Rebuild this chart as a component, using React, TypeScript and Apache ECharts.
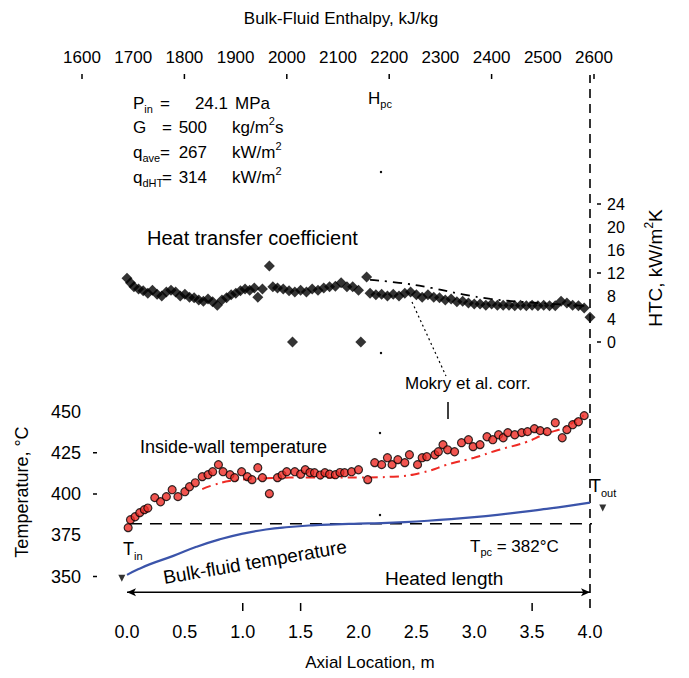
import React, { useEffect, useRef } from "react";
import * as echarts from "echarts";

// ---------- data ----------
const axialLabels = [0, 0.5, 1, 1.5, 2, 2.5, 3, 3.5, 4];
const axialTickMarks = [1, 1.5, 3.5];
const enthalpyLabels = [1600, 1700, 1800, 1900, 2000, 2100, 2200, 2300, 2400, 2500, 2600];
const enthalpyTickMarks = [1600, 1800, 2000, 2200, 2400, 2600];
const tempLabels = [350, 375, 400, 425, 450];
const tempTickMarks = [350, 400, 425];
const htcLabels = [0, 4, 8, 12, 16, 20, 24];
const htcTickMarks = [0, 12, 24];

const htcAxial = [0.00,0.03,0.06,0.10,0.14,0.18,0.22,0.26,0.30,0.34,0.38,0.42,0.46,0.50,0.54,0.58,0.62,0.66,0.70,0.74,0.78,0.82,0.86,0.90,0.94,0.98,1.02,1.06,1.10,1.13,1.17,1.23,1.26,1.30,1.35,1.40,1.43,1.45,1.50,1.55,1.60,1.65,1.70,1.75,1.80,1.85,1.90,1.95,2.00,2.02,2.07,2.10,2.15,2.20,2.25,2.30,2.35,2.40,2.45,2.50,2.55,2.60,2.65,2.70,2.75,2.80,2.85,2.90,2.95,3.00,3.05,3.10,3.15,3.20,3.25,3.30,3.35,3.40,3.45,3.50,3.55,3.60,3.65,3.70,3.75,3.80,3.85,3.90,3.95,4.00];
const htcValue = [11.1,10.3,9.6,9.2,8.9,8.5,9.0,8.3,8.0,8.7,9.0,8.7,8.0,8.3,7.8,7.7,7.3,7.1,7.5,7.0,6.4,7.3,7.7,8.2,8.5,8.9,9.2,9.0,9.4,7.8,9.2,13.2,9.6,9.4,9.2,8.9,0.0,8.7,9.0,8.7,9.2,9.0,9.4,9.6,9.7,10.3,9.6,9.6,9.0,0.0,11.3,8.5,8.2,8.3,8.0,8.3,8.0,8.5,8.7,8.2,7.8,8.2,7.8,7.7,7.3,7.5,7.0,7.1,6.8,6.6,6.6,6.4,6.6,6.4,6.4,6.4,6.3,6.4,6.3,6.4,6.3,6.4,6.3,6.3,7.1,6.8,6.4,6.3,5.9,4.3];

const mokryHtcAxial = [2.1, 2.35, 2.63, 2.9, 3.14, 3.4, 3.7, 4.0];
const mokryHtcValue = [10.8, 10.3, 9.4, 8.3, 7.5, 7.0, 6.6, 6.2];

const wallAxial = [0.01,0.03,0.07,0.11,0.15,0.18,0.24,0.29,0.34,0.39,0.44,0.50,0.54,0.59,0.65,0.70,0.74,0.79,0.83,0.89,0.93,0.99,1.04,1.08,1.13,1.17,1.23,1.30,1.34,1.38,1.45,1.50,1.54,1.58,1.62,1.67,1.71,1.75,1.80,1.84,1.88,1.94,2.00,2.08,2.14,2.20,2.25,2.29,2.34,2.40,2.44,2.51,2.55,2.59,2.66,2.69,2.73,2.77,2.83,2.89,2.95,2.99,3.05,3.11,3.16,3.21,3.25,3.29,3.35,3.41,3.46,3.52,3.57,3.63,3.70,3.76,3.80,3.85,3.90,3.95,4.00];
const wallTemp = [379.6,384.4,386.2,388.7,390.5,391.5,397.8,395.3,398.4,402.6,398.4,401.4,404.4,406.8,410.5,411.7,413.5,417.8,413.5,411.7,409.9,413.5,410.5,408.7,415.9,409.9,400.2,409.9,411.5,413.5,413.5,412.0,414.7,413.0,412.9,411.5,412.9,412.0,411.7,413.0,412.9,413.5,414.7,408.7,419.0,417.8,422.0,417.8,420.8,419.0,423.8,417.8,422.0,422.6,423.8,425.6,429.9,426.8,425.6,431.1,432.9,428.7,429.9,434.7,432.9,435.9,434.1,437.2,435.9,437.2,437.8,439.6,438.4,437.8,443.2,434.1,439.0,442.0,443.8,447.5,463.8];

const mokryWallAxial = [0.65, 0.75, 0.9, 1.2, 1.6, 2.0, 2.3, 2.55, 2.8, 3.0, 3.2, 3.45, 3.6, 3.8, 3.9, 3.97];
const mokryWallTemp = [403, 405.5, 408, 409.5, 410, 410, 410.5, 413, 418.5, 422, 426.5, 431.5, 436, 441, 446, 448];

const bulkAxial = [0, 0.1, 0.2, 0.4, 0.6, 0.8, 1.0, 1.2, 1.4, 1.6, 1.8, 2.0, 2.2, 2.4, 2.6, 2.8, 3.0, 3.2, 3.4, 3.6, 3.8, 4.0];
const bulkTemp = [351, 354.5, 357.5, 362.5, 368, 372.5, 376, 378.5, 380, 381, 381.6, 382, 382.4, 383, 383.8, 384.8, 386, 387.4, 389, 390.8, 392.7, 394.8];

const tPc = 382;
const tIn = 349;
const tOut = 391.5;
const heatedLength = [0, 4];

// ---------- helpers ----------
const FONT = "'Liberation Sans', Arial, sans-serif";
const zip = (xs: number[], ys: number[]) => xs.map((x, i) => [x, ys[i]]);

const txt = (x: number, y: number, text: string, size = 17, extra: any = {}) => ({
  type: "text",
  x,
  y,
  silent: true,
  ...extra,
  style: {
    text,
    fontSize: size,
    fontFamily: FONT,
    fill: "#000",
    align: "left",
    verticalAlign: "middle",
    ...(extra.style || {}),
  },
});

const richStyles = (size: number) => ({
  a: { fontSize: size, fontFamily: FONT, lineHeight: size + 6, verticalAlign: "middle", fill: "#000" },
  s: { fontSize: Math.round(size * 0.62), fontFamily: FONT, lineHeight: Math.round(size * 0.62), verticalAlign: "bottom", fill: "#000" },
  p: { fontSize: Math.round(size * 0.62), fontFamily: FONT, lineHeight: Math.round(size * 0.62), verticalAlign: "top", fill: "#000" },
});

const richTxt = (x: number, y: number, text: string, size = 17, extra: any = {}) => ({
  type: "text",
  x,
  y,
  silent: true,
  ...extra,
  style: {
    text,
    rich: richStyles(size),
    fontSize: size,
    fontFamily: FONT,
    fill: "#000",
    align: "left",
    verticalAlign: "middle",
    ...(extra.style || {}),
  },
});

const tickLine = (x1: number, y1: number, x2: number, y2: number) => ({
  type: "line",
  silent: true,
  shape: { x1, y1, x2, y2 },
  style: { stroke: "#000", lineWidth: 1.5 },
});

export default function App() {
  const ref = useRef<HTMLDivElement>(null);

  useEffect(() => {
    const chart = echarts.init(ref.current!, null, { renderer: "svg" });
    const axisText = { color: "#000", fontFamily: FONT };

    const baseGraphic: any[] = [
      txt(341, 18, "Bulk-Fluid Enthalpy, kJ/kg", 17, { style: { align: "center" } }),
      // parameter block
      richTxt(133, 103, "{a|P}{s|in}", 17),
      txt(160, 103, "=", 17),
      txt(228, 103, "24.1", 17, { style: { align: "right" } }),
      txt(235, 103, "MPa", 17),
      txt(133, 127, "G", 17),
      txt(162, 127, "=", 17),
      txt(207, 127, "500", 17, { style: { align: "right" } }),
      richTxt(232, 127, "{a|kg/m}{p|2}{a|s}", 17),
      richTxt(133, 152, "{a|q}{s|ave}", 17),
      txt(160, 152, "=", 17),
      txt(207, 152, "267", 17, { style: { align: "right" } }),
      richTxt(232, 152, "{a|kW/m}{p|2}", 17),
      richTxt(133, 177, "{a|q}{s|dHT}", 17),
      txt(162, 177, "=", 17),
      txt(207, 177, "314", 17, { style: { align: "right" } }),
      richTxt(232, 177, "{a|kW/m}{p|2}", 17),
      richTxt(368, 98, "{a|H}{s|pc}", 17),
      { type: "circle", shape: { cx: 381, cy: 172, r: 1.2 }, style: { fill: "#000" }, silent: true },
      { type: "circle", shape: { cx: 381, cy: 353, r: 1.2 }, style: { fill: "#000" }, silent: true },
      { type: "circle", shape: { cx: 380, cy: 433, r: 1.2 }, style: { fill: "#000" }, silent: true },
      { type: "circle", shape: { cx: 380, cy: 515, r: 1.2 }, style: { fill: "#000" }, silent: true },
      txt(147, 238, "Heat transfer coefficient", 20),
      richTxt(655, 268, "{a|HTC, kW/m}{p|2}{a|K}", 19, { rotation: Math.PI / 2, style: { align: "center" } }),
      txt(405, 383, "Mokry et al. corr.", 17),
      {
        type: "line",
        silent: true,
        shape: { x1: 412, y1: 302, x2: 446, y2: 376 },
        style: { stroke: "#000", lineWidth: 1.2, lineDash: [2, 3] },
      },
      {
        type: "line",
        silent: true,
        shape: { x1: 448, y1: 402, x2: 448, y2: 419 },
        style: { stroke: "#000", lineWidth: 1.5 },
      },
      txt(140, 447, "Inside-wall temperature", 18),
      richTxt(590, 486, "{a|T}{s|out}", 18),
      richTxt(470, 546, "{a|T}{s|pc}{a| = 382°C}", 17),
      richTxt(123, 549, "{a|T}{s|in}", 18),
      txt(255, 562, "Bulk-fluid temperature", 19, { rotation: 0.17, style: { align: "center" } }),
      txt(385, 578, "Heated length", 19),
      txt(22, 492, "Temperature, °C", 18, { rotation: Math.PI / 2, style: { align: "center" } }),
      txt(370, 662, "Axial Location, m", 17, { style: { align: "center" } }),
    ];

    const option: any = {
      animation: false,
      backgroundColor: "#fff",
      grid: [
        { left: 127, width: 463, top: 395, height: 198 },
        { left: 127, width: 463, top: 181, height: 184 },
        { left: 82, width: 512, top: 74, height: 534 },
        { left: 127, width: 463, top: 75, height: 533 },
      ],
      xAxis: [
        {
          gridIndex: 0,
          type: "value",
          min: 0,
          max: 4,
          position: "bottom",
          offset: 10,
          axisLine: { show: false },
          axisTick: { show: false },
          axisLabel: {
            ...axisText,
            fontSize: 18,
            margin: 20,
            customValues: axialLabels,
            formatter: (v: number) => v.toFixed(1),
          },
          splitLine: { show: false },
        },
        { gridIndex: 1, type: "value", min: 0, max: 4, show: false },
        {
          gridIndex: 2,
          type: "value",
          min: 1600,
          max: 2600,
          position: "top",
          axisLine: { show: false },
          axisTick: { show: false },
          axisLabel: { ...axisText, fontSize: 17, margin: 8, customValues: enthalpyLabels, formatter: (v: number) => String(v) },
          splitLine: { show: false },
        },
        { gridIndex: 3, type: "value", min: 0, max: 4, show: false },
      ],
      yAxis: [
        {
          gridIndex: 0,
          type: "value",
          min: 340,
          max: 460,
          position: "left",
          offset: 30,
          axisLine: { show: false },
          axisTick: { show: false },
          axisLabel: { ...axisText, fontSize: 18, margin: 16, customValues: tempLabels, formatter: (v: number) => String(v) },
          splitLine: { show: false },
        },
        {
          gridIndex: 1,
          type: "value",
          min: -4,
          max: 28,
          position: "right",
          offset: 7,
          axisLine: { show: false },
          axisTick: { show: false },
          axisLabel: { ...axisText, fontSize: 16, margin: 10, customValues: htcLabels, formatter: (v: number) => String(v) },
          splitLine: { show: false },
        },
        { gridIndex: 2, type: "value", min: 0, max: 1, show: false },
        { gridIndex: 3, type: "value", min: 0, max: 1, show: false },
      ],
      series: [
        {
          name: "HTC",
          type: "scatter",
          xAxisIndex: 1,
          yAxisIndex: 1,
          symbol: "diamond",
          symbolSize: 11,
          itemStyle: { color: "#000" },
          data: zip(htcAxial, htcValue),
          z: 3,
        },
        {
          name: "Mokry HTC",
          type: "line",
          xAxisIndex: 1,
          yAxisIndex: 1,
          showSymbol: false,
          symbol: "none",
          smooth: true,
          lineStyle: { color: "#000", width: 1.8, type: [9, 6, 2, 6] },
          data: zip(mokryHtcAxial, mokryHtcValue),
          z: 2,
        },
        {
          name: "Bulk-fluid temperature",
          type: "line",
          xAxisIndex: 0,
          yAxisIndex: 0,
          showSymbol: false,
          symbol: "none",
          smooth: true,
          lineStyle: { color: "#3b54aa", width: 2.2 },
          data: zip(bulkAxial, bulkTemp),
          z: 2,
        },
        {
          name: "Mokry wall",
          type: "line",
          xAxisIndex: 0,
          yAxisIndex: 0,
          showSymbol: false,
          symbol: "none",
          smooth: true,
          lineStyle: { color: "#ee2a24", width: 2, type: [9, 5, 2, 5] },
          data: zip(mokryWallAxial, mokryWallTemp),
          z: 2,
        },
        {
          name: "Inside-wall temperature",
          type: "scatter",
          xAxisIndex: 0,
          yAxisIndex: 0,
          symbol: "circle",
          symbolSize: 8,
          itemStyle: { color: "#ee2a24", borderColor: "#000", borderWidth: 1.2 },
          data: zip(wallAxial, wallTemp),
          z: 4,
        },
        {
          name: "Tpc",
          type: "line",
          xAxisIndex: 0,
          yAxisIndex: 0,
          clip: false,
          showSymbol: false,
          symbol: "none",
          lineStyle: { color: "#000", width: 1.6, type: [12, 8] },
          data: [[-0.32, tPc], [4.2, tPc]],
          z: 1,
        },
        {
          name: "Heated length",
          type: "line",
          xAxisIndex: 0,
          yAxisIndex: 0,
          clip: false,
          symbol: "arrow",
          symbolSize: [6, 9],
          showSymbol: true,
          itemStyle: { color: "#000" },
          lineStyle: { color: "#000", width: 1.6 },
          data: [
            { value: [heatedLength[0], 340.5], symbolRotate: 90 },
            { value: [heatedLength[1], 340.5], symbolRotate: -90 },
          ],
          z: 2,
        },
        {
          name: "Tin/Tout",
          type: "scatter",
          xAxisIndex: 0,
          yAxisIndex: 0,
          clip: false,
          symbol: "triangle",
          symbolRotate: 180,
          symbolSize: 7,
          itemStyle: { color: "#000" },
          data: [[-0.045, tIn], [4.11, tOut]],
          z: 3,
        },
        {
          name: "Outlet",
          type: "line",
          xAxisIndex: 3,
          yAxisIndex: 3,
          showSymbol: false,
          symbol: "none",
          lineStyle: { color: "#000", width: 1.6, type: [9, 6] },
          data: [[4, 0], [4, 1]],
          z: 1,
        },
      ],
      graphic: baseGraphic,
    };

    chart.setOption(option);

    // tick marks placed through the axes' own scales
    const px = (finder: any, v: number) => chart.convertToPixel(finder, v) as number;
    const ticks: any[] = [];
    tempTickMarks.forEach((v) => {
      const y = px({ yAxisIndex: 0 }, v);
      ticks.push(tickLine(93, y, 97, y));
    });
    htcTickMarks.forEach((v) => {
      const y = px({ yAxisIndex: 1 }, v);
      ticks.push(tickLine(597, y, 601, y));
    });
    axialTickMarks.forEach((v) => {
      const x = px({ xAxisIndex: 0 }, v);
      ticks.push(tickLine(x, 603, x, 611));
    });
    enthalpyTickMarks.forEach((v) => {
      const x = px({ xAxisIndex: 2 }, v);
      ticks.push(tickLine(x, 74, x, 79));
    });
    chart.setOption({ graphic: [...baseGraphic, ...ticks] });

    return () => chart.dispose();
  }, []);

  return (
    <div
      ref={ref}
      style={{ position: "fixed", left: 0, top: 0, width: 689, height: 678, background: "#fff" }}
    />
  );
}
